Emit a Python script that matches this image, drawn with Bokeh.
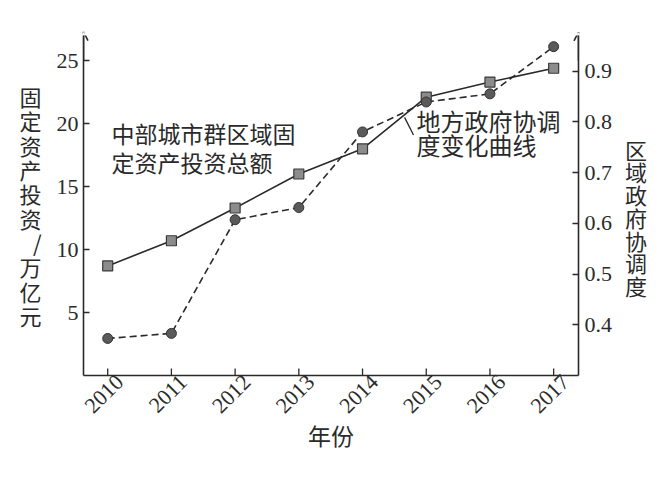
import math
from bokeh.plotting import figure
from bokeh.models import Range1d, LinearAxis, FixedTicker, Label, Arrow, OpenHead
from bokeh.embed import file_html
from bokeh.resources import INLINE

# ---- data ----
years = [2010, 2011, 2012, 2013, 2014, 2015, 2016, 2017]
investment = [8.7, 10.7, 13.3, 16.0, 18.0, 22.1, 23.3, 24.4]          # 万亿元 (left axis)
coordination = [0.373, 0.383, 0.607, 0.631, 0.780, 0.839, 0.855, 0.948]  # 协调度 (right axis)
left_ticks = [5, 10, 15, 20, 25]
right_ticks = [0.4, 0.5, 0.6, 0.7, 0.8, 0.9]
x_title = "年份"
left_title = "固定资产投资/万亿元"
right_title = "区域政府协调度"
label_invest = "中部城市群区域固\n定资产投资总额"
label_coord = "地方政府协调\n度变化曲线"

SERIF = "Liberation Serif"
CJK = "Noto Sans CJK SC"
INK = "#2a2a2a"

X0, X1 = 2009.62, 2017.39
W, H = 663, 469
p = figure(width=W, height=H, output_backend="svg", toolbar_location=None,
           x_range=Range1d(X0, X1), y_range=Range1d(0, 27),
           min_border_left=83, min_border_right=W - 578, min_border_top=35,
           min_border_bottom=H - 375,
           background_fill_color="white", border_fill_color="white")
p.outline_line_color = None
p.xgrid.visible = False
p.ygrid.visible = False

def style_axis(ax):
    ax.axis_line_color = INK
    ax.axis_line_width = 1.6
    ax.major_tick_line_color = INK
    ax.major_tick_line_width = 1.3
    ax.major_tick_in = 6
    ax.major_tick_out = 0
    ax.minor_tick_line_color = None
    ax.major_label_text_font = SERIF
    ax.major_label_text_font_size = "22px"
    ax.major_label_text_color = INK
    ax.axis_label_text_font = CJK
    ax.axis_label_text_font_style = "normal"
    ax.axis_label_text_color = INK

# bottom axis: slanted year labels, on a range shifted slightly so that the
# slanted labels sit centred under their years as in the reference
shift = 12 / ((578 - 83) / (X1 - X0))
p.extra_x_ranges = {"labels": Range1d(X0 - shift, X1 - shift)}
xa = p.xaxis[0]
xa.x_range_name = "labels"
xa.ticker = FixedTicker(ticks=years)
style_axis(xa)
xa.major_tick_line_color = None
xa.major_label_orientation = math.pi / 4
xa.major_label_standoff = 3
xa.axis_label = x_title
xa.axis_label_text_font_size = "23px"
xa.axis_label_standoff = -5

# inward year ticks on the bottom axis (lower half is clipped by the frame)
p.scatter(years, [0] * len(years), marker="dash", angle=math.pi / 2, size=14,
          line_color=INK, line_width=1.3)

# left axis
ya = p.yaxis[0]
ya.ticker = FixedTicker(ticks=left_ticks)
style_axis(ya)
ya.major_label_standoff = 5
ya.axis_label = "\n".join(left_title)
ya.axis_label_orientation = "horizontal"
ya.axis_label_text_font_size = "22px"
ya.axis_label_text_line_height = 0.76
ya.axis_label_standoff = 12

# right axis
p.extra_y_ranges = {"right": Range1d(0.3, 0.97)}
ra = LinearAxis(y_range_name="right", ticker=FixedTicker(ticks=right_ticks))
style_axis(ra)
ra.major_label_standoff = 6
ra.axis_label = "\n" + "\n".join(right_title)
ra.axis_label_orientation = "horizontal"
ra.axis_label_text_font_size = "22px"
ra.axis_label_text_line_height = 0.71
ra.axis_label_standoff = 10
p.add_layout(ra, "right")

# arrows on top of vertical axes
p.add_layout(Arrow(end=OpenHead(size=9, line_width=1.6, line_color=INK),
                   x_start=X0, y_start=25.0, x_end=X0, y_end=27.3,
                   line_color=INK, line_width=1.6))
p.add_layout(Arrow(end=OpenHead(size=9, line_width=1.6, line_color=INK),
                   x_start=X1, y_start=0.92, x_end=X1, y_end=0.977,
                   y_range_name="right", line_color=INK, line_width=1.6))

# series
p.line(years, investment, line_color=INK, line_width=1.6)
p.line(years, coordination, y_range_name="right", line_color=INK, line_width=1.6,
       line_dash="7 4")
p.scatter(years, investment, marker="square", size=10, fill_color="#8c8c8c",
          line_color="#3a3a3a", line_width=1.2)
p.scatter(years, coordination, y_range_name="right", marker="circle", size=10,
          fill_color="#5a5a5a", line_color="#333333", line_width=1.0)

# leader line for the dashed-series label
p.segment(x0=[2014.66], y0=[20.5], x1=[2014.80], y1=[19.1], line_color=INK, line_width=1.3)

# in-plot labels (screen units are relative to the frame)
p.add_layout(Label(x=28, y=260, x_units="screen", y_units="screen", text=label_invest,
                   text_font=CJK, text_font_size="23px", text_color=INK,
                   text_baseline="top", text_align="left", text_line_height=0.87))
p.add_layout(Label(x=333, y=273, x_units="screen", y_units="screen", text=label_coord,
                   text_font=CJK, text_font_size="24px", text_color=INK,
                   text_baseline="top", text_align="left", text_line_height=0.70))

open("out.html", "w").write(file_html(p, INLINE))
